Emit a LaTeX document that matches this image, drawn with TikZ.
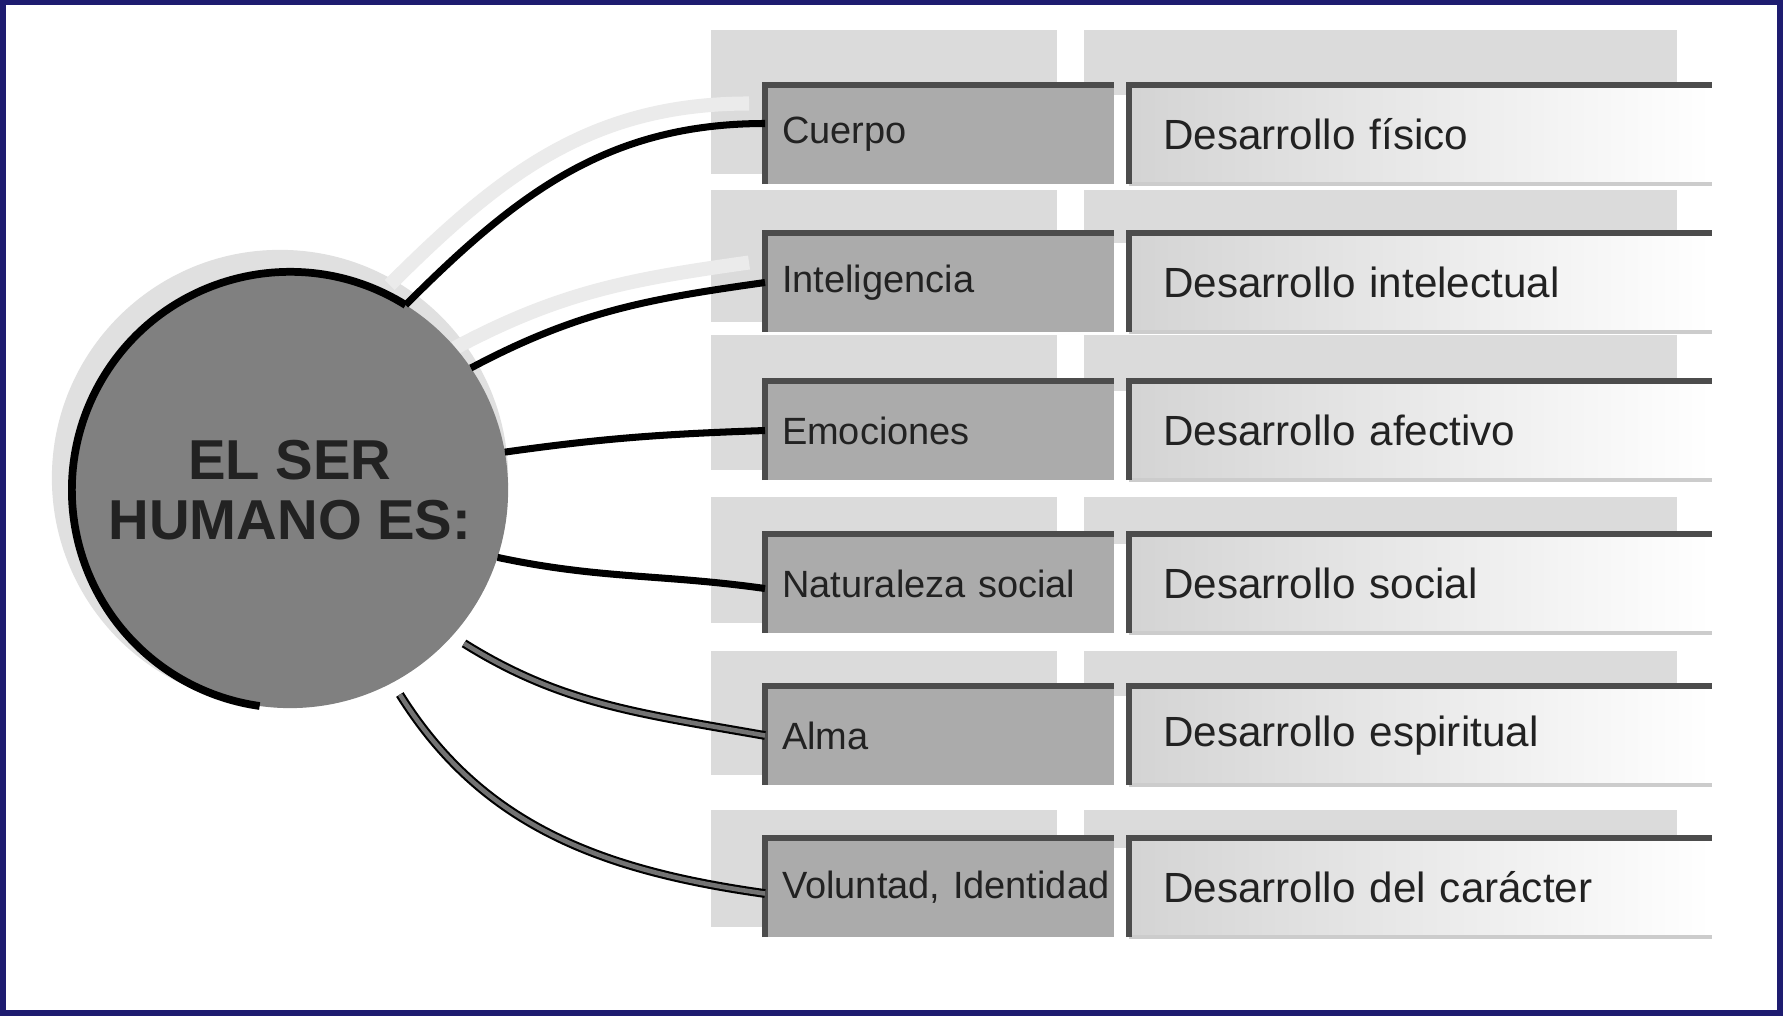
\documentclass[tikz,border=0pt]{standalone}
\usepackage{fontspec}
\setmainfont{Liberation Sans}
\usetikzlibrary{positioning, shapes, backgrounds}

\definecolor{slideblue}{RGB}{30,28,112}
\definecolor{ink}{RGB}{34,34,34}

\begin{document}
\begin{tikzpicture}[x=0.01cm, y=0.01cm, semithick,
    core/.style={circle, fill=black!50, minimum size=4.36cm, inner sep=0, outer sep=0,
      align=center, text=ink, font=\fontsize{16}{17}\selectfont\bfseries},
    aspect/.style={rectangle, anchor=north west, inner sep=0, outer sep=0,
      minimum height=0.99cm, text width=3.49cm, align=left, fill=black!33, text=ink,
      execute at begin node=\hspace*{0.17cm}, font=\fontsize{10.8}{13}\selectfont},
    growth/.style={rectangle, inner sep=0, outer sep=0, inner xsep=0.34cm,
      minimum height=0.99cm, text width=5.14cm, align=left, left color=black!17, right color=white,
      text=ink, font=\fontsize{12}{14}\selectfont},
    frameline/.style={draw=black!70, line width=1.7pt},
    baseline/.style={draw=black!20, line width=1pt},
    rimline/.style={draw=black, line width=2.2pt},
    ghost/.style={fill=black!14},
    link/.style={draw=black, line width=2pt},
    faded/.style={draw=black, double=black!55, double distance=1.3pt, line width=0.6pt},
    halo/.style={draw=black!8, line width=4pt, transform canvas={shift={(-16,20)}}}
  ]
  \useasboundingbox (0,0) rectangle (1783,1016);

  \node[core] (core) at (290,526) {EL SER\\HUMANO ES:};

  % left column
  \node[aspect] (l1) at (765,931) {Cuerpo};
  \node[aspect] (l2) at (765,783) {Inteligencia};
  \node[aspect] (l3) at (765,635) {Emociones};
  \node[aspect] (l4) at (765,482) {Naturaleza social};
  \node[aspect] (l5) at (765,330) {Alma};
  \node[aspect] (l6) at (765,178) {Voluntad, Identidad};

  % right column
  \node[growth, right=0.15cm of l1] (r1) {Desarrollo físico};
  \node[growth, right=0.15cm of l2] (r2) {Desarrollo intelectual};
  \node[growth, right=0.15cm of l3] (r3) {Desarrollo afectivo};
  \node[growth, right=0.15cm of l4] (r4) {Desarrollo social};
  \node[growth, right=0.15cm of l5] (r5) {Desarrollo espiritual};
  \node[growth, right=0.15cm of l6] (r6) {Desarrollo del carácter};

  \begin{scope}[on background layer]
    \fill[slideblue] (0,0) rectangle (1783,1016);
    \fill[white] (6,6) rectangle (1777,1011);
    \fill[black!12] (280,538) circle[radius=2.28cm];
    % shadows behind the rows
    \fill[ghost] (711,986) rectangle (1057,842);
    \fill[ghost] (1084,986) rectangle (1677,921);
    \fill[ghost] (711,826) rectangle (1057,694);
    \fill[ghost] (1084,826) rectangle (1677,773);
    \fill[ghost] (711,681) rectangle (1057,546);
    \fill[ghost] (1084,681) rectangle (1677,625);
    \fill[ghost] (711,519) rectangle (1057,393);
    \fill[ghost] (1084,519) rectangle (1677,472);
    \fill[ghost] (711,365) rectangle (1057,241);
    \fill[ghost] (1084,365) rectangle (1677,320);
    \fill[ghost] (711,206) rectangle (1057,89);
    \fill[ghost] (1084,206) rectangle (1677,168);
    \draw[halo] (core.58) to[out=45, in=180] ([yshift=0.11cm]l1.west);
    \draw[halo] (core.34) to[out=28, in=188] (l2.west);
  \end{scope}

  \draw[rimline] (core.58) arc[start angle=58, end angle=262, radius=2.18cm];

  \draw[frameline] (l1.south west) |- (l1.north east);
  \draw[frameline] (l2.south west) |- (l2.north east);
  \draw[frameline] (l3.south west) |- (l3.north east);
  \draw[frameline] (l4.south west) |- (l4.north east);
  \draw[frameline] (l5.south west) |- (l5.north east);
  \draw[frameline] (l6.south west) |- (l6.north east);
  \draw[baseline] (r1.south west) -- (r1.south east);
  \draw[baseline] (r2.south west) -- (r2.south east);
  \draw[baseline] (r3.south west) -- (r3.south east);
  \draw[baseline] (r4.south west) -- (r4.south east);
  \draw[baseline] (r5.south west) -- (r5.south east);
  \draw[baseline] (r6.south west) -- (r6.south east);
  \draw[frameline] (r1.south west) |- (r1.north east);
  \draw[frameline] (r2.south west) |- (r2.north east);
  \draw[frameline] (r3.south west) |- (r3.north east);
  \draw[frameline] (r4.south west) |- (r4.north east);
  \draw[frameline] (r5.south west) |- (r5.north east);
  \draw[frameline] (r6.south west) |- (r6.north east);

  \draw[link] (core.58) to[out=45, in=180] ([yshift=0.11cm]l1.west);
  \draw[link] (core.34) to[out=28, in=188] (l2.west);
  \draw[link] (core.10) to[out=8, in=182] (l3.west);
  \draw[link] (core.-18) to[out=-12, in=172] ([yshift=-0.05cm]l4.west);
  \draw[faded, shorten <=4pt] (core.-42) to[out=-32, in=170] (l5.west);
  \draw[faded, shorten <=4pt] (core.-62) to[out=-58, in=172] ([yshift=-0.06cm]l6.west);
\end{tikzpicture}
\end{document}
